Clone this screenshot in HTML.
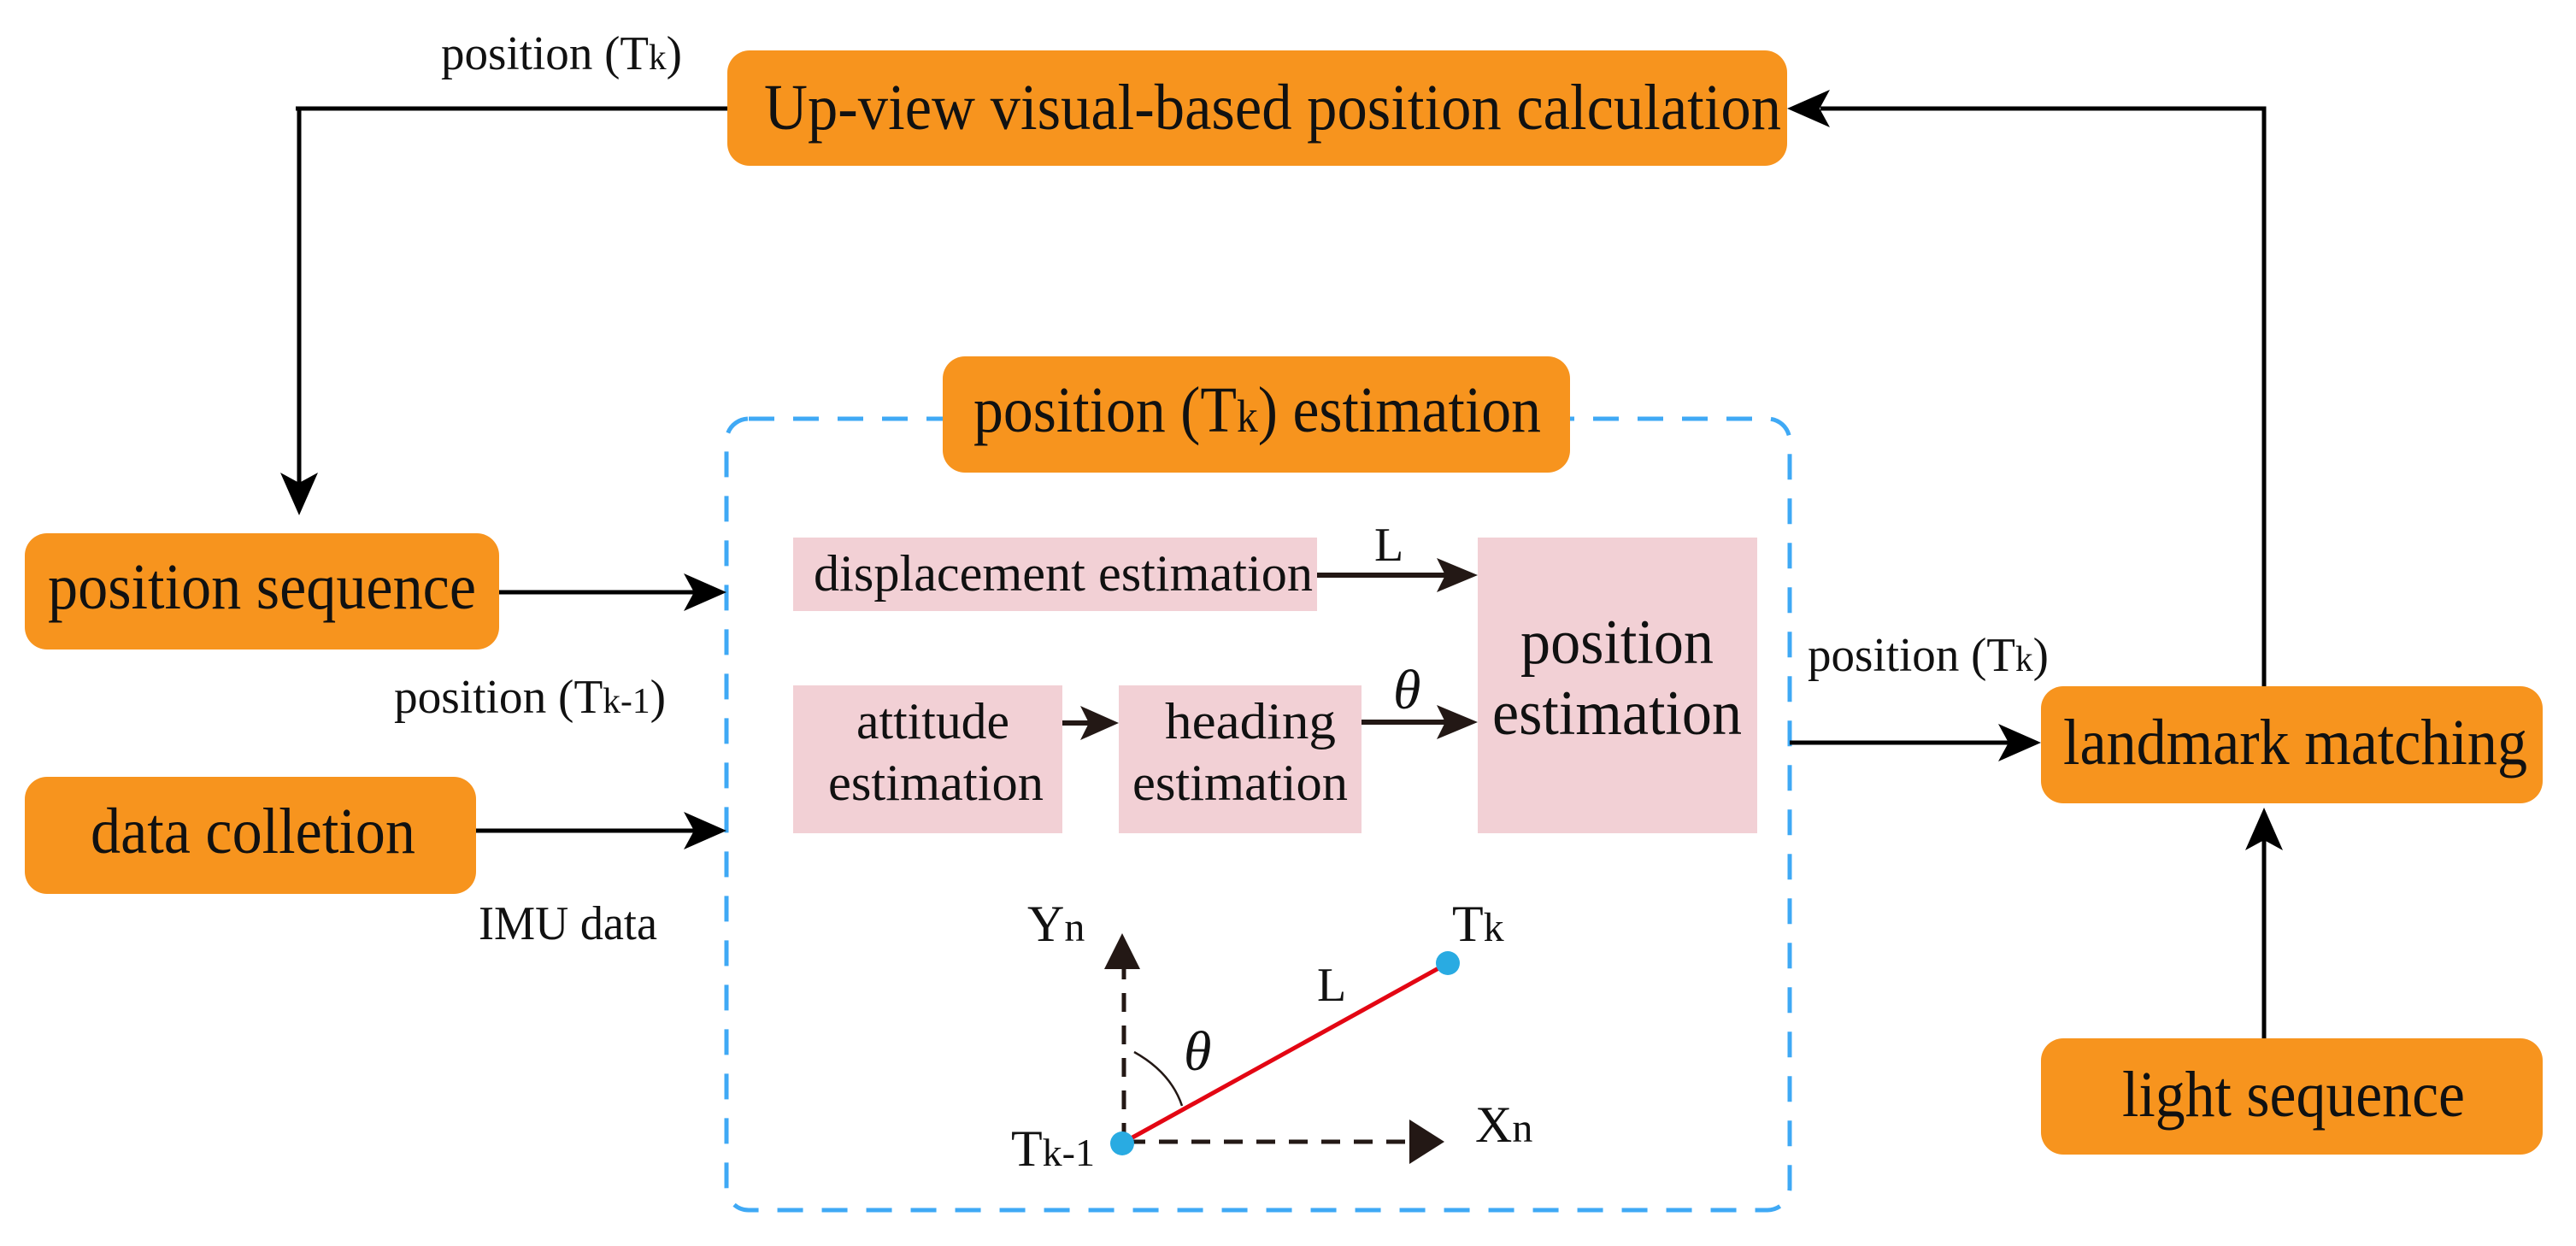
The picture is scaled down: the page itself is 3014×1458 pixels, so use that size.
<!DOCTYPE html>
<html><head><meta charset="utf-8"><style>
html,body{margin:0;padding:0;background:#fff;}
svg{display:block;}
svg text{font-family:"Liberation Serif","Times New Roman",Times,"DejaVu Serif",serif;fill:#111;}
</style></head><body>
<svg width="3014" height="1458" viewBox="0 0 3014 1458" xmlns="http://www.w3.org/2000/svg" font-family="Liberation Serif, Times New Roman, DejaVu Serif, serif">
<rect width="3014" height="1458" fill="#fff"/>
<rect x="850" y="490" width="1244" height="926" rx="26" ry="26" fill="none" stroke="#3FA9F5" stroke-width="5" stroke-dasharray="30 22"/>

<g fill="#F7941E">
<rect x="851" y="59" width="1240" height="135" rx="26"/>
<rect x="1103" y="417" width="734" height="136" rx="26"/>
<rect x="29" y="624" width="555" height="136" rx="26"/>
<rect x="29" y="909" width="528" height="137" rx="26"/>
<rect x="2388" y="803" width="587" height="137" rx="26"/>
<rect x="2388" y="1215" width="587" height="136" rx="26"/>
</g>
<g fill="#F2D0D5">
<rect x="928" y="629" width="613" height="86"/>
<rect x="1729" y="629" width="327" height="346"/>
<rect x="928" y="802" width="315" height="173"/>
<rect x="1309" y="802" width="284" height="173"/>
</g>

<g stroke="#000" stroke-width="5" fill="none">
<polyline points="851,127 346,127"/>
<line x1="350" y1="125" x2="350" y2="570"/>
<polyline points="2649,803 2649,127 2130,127"/>
<line x1="584" y1="693" x2="815" y2="693"/>
<line x1="557" y1="972" x2="815" y2="972"/>
<line x1="2094" y1="869" x2="2352" y2="869"/>
<line x1="2649" y1="1215" x2="2649" y2="980"/>
</g>
<g stroke="#231815" stroke-width="6" fill="none">
<line x1="1541" y1="673" x2="1695" y2="673"/>
<line x1="1243" y1="846" x2="1280" y2="846"/>
<line x1="1593" y1="845" x2="1695" y2="845"/>
</g>
<g fill="#000">
<path d="M350,603 L328,553 L350,565 L372,553Z"/>
<path d="M2091,127 L2141,105 L2129,127 L2141,149Z"/>
<path d="M850,693 L800,671 L812,693 L800,715Z"/>
<path d="M850,972 L800,950 L812,972 L800,994Z"/>
<path d="M2388,869 L2338,847 L2350,869 L2338,891Z"/>
<path d="M2649,945 L2627,995 L2649,983 L2671,995Z"/>
</g>
<g fill="#231815">
<path d="M1729,673 L1681,653 L1691,673 L1681,693Z"/>
<path d="M1309,846 L1264,826 L1274,846 L1264,866Z"/>
<path d="M1729,845 L1681,825 L1691,845 L1681,865Z"/>
<path d="M1313,1092 L1292,1134 L1334,1134Z"/>
<path d="M1690,1336 L1649,1310 L1649,1362Z"/>
</g>
<g stroke="#231815" stroke-width="5" stroke-dasharray="22 16" fill="none">
<line x1="1315" y1="1336" x2="1315" y2="1134"/>
<line x1="1318" y1="1336" x2="1650" y2="1336"/>
</g>
<path d="M1327,1231 Q1370,1255 1383,1294" stroke="#231815" stroke-width="2.5" fill="none"/>
<line x1="1316" y1="1336" x2="1694" y2="1127" stroke="#E30613" stroke-width="5"/>
<circle cx="1313" cy="1338" r="14" fill="#29ABE2"/>
<circle cx="1694" cy="1127" r="14" fill="#29ABE2"/>

<text x="894" y="151" font-size="76" textLength="1190" lengthAdjust="spacingAndGlyphs">Up-view visual-based position calculation</text>
<text x="1139" y="505" font-size="76" textLength="664" lengthAdjust="spacingAndGlyphs">position (T<tspan font-size="54">k</tspan>) estimation</text>
<text x="56" y="712" font-size="76" textLength="501" lengthAdjust="spacingAndGlyphs">position sequence</text>
<text x="106" y="998" font-size="76" textLength="380" lengthAdjust="spacingAndGlyphs">data colletion</text>
<text x="2414" y="894" font-size="76" textLength="543" lengthAdjust="spacingAndGlyphs">landmark matching</text>
<text x="2483" y="1306" font-size="76" textLength="401" lengthAdjust="spacingAndGlyphs">light sequence</text>

<text x="952" y="691" font-size="60" textLength="584" lengthAdjust="spacingAndGlyphs" fill="#231815">displacement estimation</text>
<text x="1002" y="864" font-size="60" textLength="179" lengthAdjust="spacingAndGlyphs">attitude</text>
<text x="969" y="936" font-size="60" textLength="252" lengthAdjust="spacingAndGlyphs">estimation</text>
<text x="1363" y="864" font-size="60" textLength="200" lengthAdjust="spacingAndGlyphs">heading</text>
<text x="1325" y="936" font-size="60" textLength="252" lengthAdjust="spacingAndGlyphs">estimation</text>
<text x="1779" y="776" font-size="74" textLength="226" lengthAdjust="spacingAndGlyphs">position</text>
<text x="1746" y="859" font-size="74" textLength="292" lengthAdjust="spacingAndGlyphs">estimation</text>

<text x="516" y="81" font-size="56" textLength="282" lengthAdjust="spacingAndGlyphs">position (T<tspan font-size="42">k</tspan>)</text>
<text x="461" y="834" font-size="56" textLength="318" lengthAdjust="spacingAndGlyphs">position (T<tspan font-size="42">k-1</tspan>)</text>
<text x="560" y="1099" font-size="56" textLength="209" lengthAdjust="spacingAndGlyphs">IMU data</text>
<text x="2115" y="785" font-size="56" textLength="282" lengthAdjust="spacingAndGlyphs">position (T<tspan font-size="42">k</tspan>)</text>
<text x="1608" y="656" font-size="56">L</text>
<text x="1630" y="829" font-size="66" font-style="italic">θ</text>
<text x="1202" y="1101" font-size="60">Y<tspan font-size="48">n</tspan></text>
<text x="1183" y="1364" font-size="60">T<tspan font-size="46">k-1</tspan></text>
<text x="1726" y="1336" font-size="60">X<tspan font-size="48">n</tspan></text>
<text x="1699" y="1101" font-size="60">T<tspan font-size="48">k</tspan></text>
<text x="1541" y="1171" font-size="56">L</text>
<text x="1385" y="1252" font-size="66" font-style="italic">θ</text>
</svg>
</body></html>
